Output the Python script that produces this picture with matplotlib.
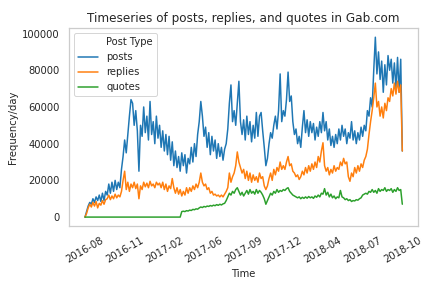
import matplotlib
matplotlib.use("Agg")
import matplotlib.pyplot as plt
import matplotlib.dates as mdates
import numpy as np
import pandas as pd
import seaborn as sns

start_date = "2016-08-10"
step_days = 4

posts = [0, 3000, 6000, 8000, 7000, 10000, 8000, 11000, 9000, 12000,
         8500, 13000, 9000, 14000, 12000, 18000, 13000, 19000, 14000, 20000,
         15000, 19000, 16000, 26000, 33000, 42000, 35000, 45000, 55000, 64000,
         62000, 50000, 58000, 47000, 25000, 50000, 44000, 60000, 46000, 55000,
         42000, 63000, 45000, 52000, 40000, 55000, 43000, 50000, 38000, 47000,
         36000, 45000, 34000, 44000, 31000, 41000, 28000, 36000, 27000, 33000,
         25000, 35000, 28000, 34000, 24000, 32000, 29000, 38000, 30000, 40000,
         33000, 45000, 52000, 63000, 55000, 44000, 49000, 38000, 46000, 34000,
         44000, 36000, 42000, 32000, 40000, 33000, 38000, 31000, 37000, 40000,
         48000, 62000, 72000, 52000, 58000, 50000, 62000, 74000, 52000, 45000,
         53000, 42000, 55000, 45000, 52000, 41000, 50000, 43000, 57000, 44000,
         55000, 57000, 47000, 38000, 28000, 32000, 40000, 46000, 43000, 50000,
         55000, 48000, 58000, 78000, 52000, 58000, 55000, 64000, 79000, 63000,
         66000, 52000, 45000, 48000, 40000, 44000, 38000, 49000, 58000, 46000,
         53000, 44000, 52000, 46000, 51000, 42000, 49000, 44000, 52000, 46000,
         57000, 47000, 52000, 42000, 48000, 39000, 44000, 38000, 45000, 40000,
         48000, 42000, 50000, 44000, 48000, 40000, 46000, 43000, 52000, 42000,
         47000, 40000, 46000, 42000, 49000, 44000, 50000, 47000, 58000, 55000,
         65000, 60000, 80000, 98000, 78000, 90000, 75000, 85000, 68000, 83000,
         72000, 88000, 80000, 86000, 73000, 84000, 70000, 87000, 68000, 86000,
         36000]

replies = [0, 2000, 5000, 7000, 5500, 8000, 6000, 8500, 5000, 7500,
           6500, 9000, 7000, 9500, 10000, 12000, 9500, 11500, 10000, 12500,
           10500, 12000, 11000, 14000, 20000, 25000, 15000, 19000, 14000, 18000,
           16000, 19000, 15500, 18000, 10000, 17000, 15000, 19000, 16500, 18500,
           16000, 19500, 17000, 18000, 16000, 19000, 17500, 18500, 16000, 19000,
           15000, 18000, 14000, 17000, 15500, 21000, 16000, 13000, 16000, 12500,
           15000, 11500, 14000, 12000, 16000, 13000, 16000, 14000, 17000, 15000,
           18000, 16000, 19000, 24000, 19000, 17000, 18000, 15000, 16000, 13000,
           14000, 12000, 12500, 11500, 12000, 11000, 12000, 11000, 12500, 14000,
           16000, 24000, 19000, 22000, 24000, 28000, 35500, 30000, 27000, 24000,
           26000, 21000, 25000, 20000, 24000, 19000, 23000, 20000, 22000, 19000,
           24000, 21000, 22000, 17000, 15000, 17000, 21000, 24000, 20000, 26000,
           23000, 27000, 25000, 30000, 26000, 28000, 26000, 30000, 33000, 28000,
           29000, 25000, 24000, 22000, 23000, 20500, 22000, 25000, 23000, 27000,
           24000, 28000, 25000, 29000, 26000, 30000, 27000, 33000, 30000, 36000,
           40500, 28000, 25000, 27000, 23000, 26000, 24000, 28000, 25000, 27000,
           26000, 30000, 28000, 32000, 29000, 30000, 22000, 19500, 24000, 22000,
           27000, 24000, 28000, 25000, 29000, 27000, 31000, 33000, 37000, 45000,
           52000, 58000, 65000, 73000, 60000, 63000, 55000, 60000, 54000, 62000,
           58000, 65000, 63000, 70000, 66000, 73000, 67000, 74000, 68000, 72000,
           36000]

quotes = [0] * 61 + [
          3000, 3200, 3000, 3500, 3300, 3800, 3600, 4200, 4000,
          4500, 4300, 5000, 5500, 5200, 5800, 5500, 6000, 5800, 6300,
          6000, 6500, 6200, 6800, 6400, 7000, 6600, 7200, 7500, 9000,
          11000, 13000, 12000, 14000, 13000, 15000, 16000, 14000, 12000, 13500,
          11500, 13000, 14500, 12500, 15000, 13000, 14000, 12500, 15000, 13000,
          14500, 13500, 12000, 10000, 7000, 9000, 11000, 13000, 12000, 14000,
          13000, 15000, 13500, 14500, 14000, 15000, 14500, 15500, 16000, 14000,
          13000, 12000, 11500, 11000, 10500, 11000, 10000, 10800, 10200, 11000,
          10300, 11200, 10500, 11000, 10200, 11500, 10800, 12000, 11000, 13000,
          12500, 15500, 12000, 13500, 11000, 12500, 10500, 11500, 10000, 11000,
          10500, 14500, 11000, 10500, 9500, 10000, 9000, 9500, 8500, 9000,
          8800, 9500, 9200, 10000, 10500, 12000, 12500, 13000, 12500, 14000,
          13500, 15000, 13500, 14500, 13000, 15500, 14000, 15000, 14500, 16000,
          14000, 15000, 14500, 15500, 13500, 15000, 14000, 16000, 14500, 15000,
          7000]

series_names = ["posts", "replies", "quotes"]
legend_title = "Post Type"
tick_step_days = 100
n_ticks = 9

dates = pd.date_range(start_date, periods=len(posts), freq=f"{step_days}D")

sns.set_theme(style="whitegrid", context="notebook")
plt.rcParams["font.family"] = ["DejaVu Sans"]

fig, ax = plt.subplots(figsize=(6, 4), dpi=72)
colors = ["#1f77b4", "#ff7f0e", "#2ca02c"]
# invisible entry so the legend title sits in line with the labels
ax.plot([], [], color="none", label=legend_title)
for name, vals, c in zip(series_names, [posts, replies, quotes], colors):
    ax.plot(dates, vals, color=c, lw=1.5, label=name)

ax.grid(False)
tick_dates = pd.date_range(start_date, periods=n_ticks, freq=f"{tick_step_days}D")
ax.set_xticks(tick_dates)
ax.xaxis.set_major_formatter(mdates.DateFormatter("%Y-%m"))
plt.setp(ax.get_xticklabels(), rotation=30, ha="center", fontsize=10)
plt.setp(ax.get_yticklabels(), fontsize=10)
ax.set_xlabel("Time", fontsize=10)
ax.set_ylabel("Frequency/day", fontsize=10)
ax.set_title("Timeseries of posts, replies, and quotes in Gab.com", fontsize=12)
leg = ax.legend(loc="upper left", fontsize=10)

fig.subplots_adjust(left=0.16, right=0.968, top=0.902, bottom=0.215)
fig.savefig("out.png", dpi=72)
